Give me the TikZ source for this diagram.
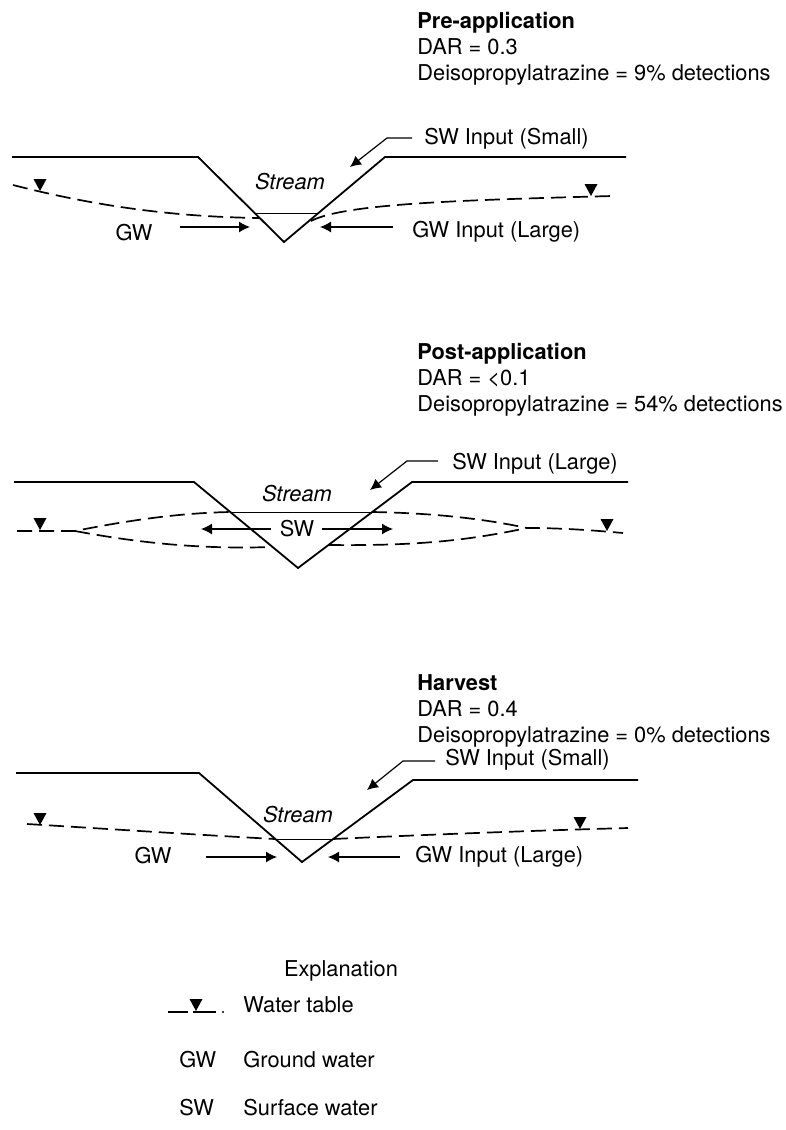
\documentclass[tikz,border=0pt]{standalone}
\usepackage{fontspec}
\setmainfont{TeX Gyre Heros}
\usetikzlibrary{arrows.meta,positioning}

\tikzset{
  ground/.style={line width=0.9pt, line join=miter},
  watertable/.style={line width=0.85pt, dash pattern=on 7.5pt off 3.5pt},
  surface/.style={line width=0.45pt},
  flow/.style={line width=0.6pt, -{Latex[length=5.5pt,width=5.5pt]}},
  lbl/.style={inner sep=0pt, font=\fontsize{10.9}{13}\selectfont},
  head/.style={lbl, align=left, anchor=north west},
}
\newcommand\wtmark[1]{\fill (#1) -- ++(-6.5,-12) -- ++(13,0) -- cycle;}

\begin{document}
\begin{tikzpicture}[x=0.5pt,y=-0.5pt]
   \useasboundingbox (0,0) rectangle (786,1130);

   % pre-application
   \node[head] (pre_t) at (417,12)
      {\textbf{Pre-application}\\DAR = 0.3\\Deisopropylatrazine = 9\% detections};
   \draw[ground] (12,157) -- (198,157) -- (284,242) -- (385,157) -- (626,157);
   \draw[surface] (255,213) -- (318,213);
   \draw[watertable] (13,185) .. controls (110,210) and (190,217) .. (259,218);
   \draw[watertable] (311,221) .. controls (345,203) and (470,200) .. (612,196);
   \wtmark{40,191}
   \wtmark{591,196}
   \node[lbl] (stream_1) at (290,182) {\itshape Stream};
   \node[lbl,anchor=west] (swin_1) at (424,139) {SW Input (Small)};
   \draw[flow] (swin_1.west) ++(-12,-1) -- ++(-25,0) -- (350,167);
   \node[lbl] (gw_1) at (134,233) {GW};
   \node[lbl,anchor=west] (gwin_1) at (412,232) {GW Input (Large)};
   \draw[flow] (gw_1.east) ++(27,-6) -- (250,227);
   \draw[flow] (gwin_1.west) ++(-19,-5) -- (320,227);

   % post-application
   \node[head] (post_t) at (417,343)
      {\textbf{Post-application}\\DAR = <0.1\\Deisopropylatrazine = 54\% detections};
   \draw[ground] (14,482) -- (194,482) -- (298,568) -- (412,482) -- (628,482);
   \draw[surface] (230,512) -- (372,512);
   \draw[watertable] (17,531) -- (75,531) .. controls (130,520) and (180,513) .. (230,512);
   \draw[watertable] (372,512) .. controls (430,513) and (480,518) .. (527,528)
      .. controls (560,528) and (590,530) .. (623,533);
   \draw[watertable] (75,531) .. controls (150,545) and (210,549) .. (272,547);
   \draw[watertable] (329,545) .. controls (420,546) and (470,540) .. (527,528);
   \wtmark{40,530}
   \wtmark{607,531}
   \node[lbl] (stream_2) at (297,494) {\itshape Stream};
   \node[lbl,anchor=west] (swin_2) at (452,464) {SW Input (Large)};
   \draw[flow] (swin_2.west) ++(-14,-3) -- ++(-31,0) -- (370,490);
   \node[lbl] (sw_2) at (297,529) {SW};
   \draw[flow] (sw_2.west) ++(-8,0) -- (201,529);
   \draw[flow] (sw_2.east) ++(7,0) -- (393,529);

   % harvest
   \node[head] (harv_t) at (417,674)
      {\textbf{Harvest}\\DAR = 0.4\\Deisopropylatrazine = 0\% detections};
   \draw[ground] (16,773) -- (199,773) -- (302,862) -- (413,780) -- (638,780);
   \draw[surface] (275,839) -- (333,839);
   \draw[watertable] (27,824) .. controls (110,829) and (200,835) .. (275,839);
   \draw[watertable] (333,839) .. controls (420,835) and (520,831) .. (628,828);
   \wtmark{40,825}
   \wtmark{580,829}
   \node[lbl] (stream_3) at (298,815) {\itshape Stream};
   \node[lbl,anchor=west] (swin_3) at (445,760) {SW Input (Small)};
   \draw[flow] (swin_3.west) ++(-10,1) -- ++(-32,0) -- (367,790);
   \node[lbl] (gw_3) at (153,856) {GW};
   \node[lbl,anchor=west] (gwin_3) at (415,857) {GW Input (Large)};
   \draw[flow] (gw_3.east) ++(34,1) -- (277,857);
   \draw[flow] (gwin_3.west) ++(-15,0) -- (328,857);

   % explanation
   \node[lbl] (expl) at (341,971) {Explanation};
   \draw[line width=0.8pt] (168,1012) -- (188,1012) (193,1012) -- (216,1012);
   \fill (223,1012) circle (0.6pt);
   \wtmark{196,1011}
   \node[lbl,anchor=west] (wt_l) at (243,1005) {Water table};
   \node[lbl,anchor=west] (gw_k) at (179,1060) {GW};
   \node[lbl,anchor=west] (gw_l) at (243,1060) {Ground water};
   \node[lbl,anchor=west] (sw_k) at (179,1108) {SW};
   \node[lbl,anchor=west] (sw_l) at (243,1108) {Surface water};
\end{tikzpicture}
\end{document}
